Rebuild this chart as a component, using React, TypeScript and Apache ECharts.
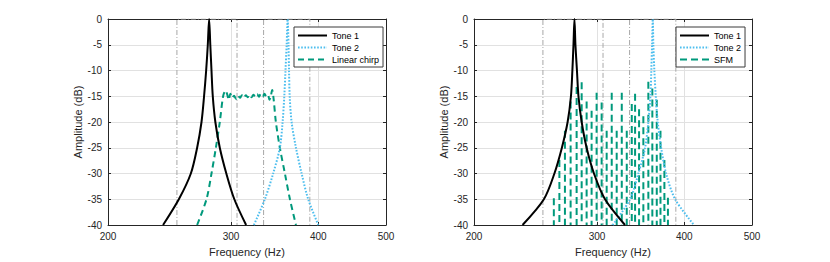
import React, { useEffect, useRef } from "react";
import * as echarts from "echarts";

// ---------- data ----------
const xTickValues = [200, 300, 400, 500];
const xMin = 200;
const xMax = 500;
const yMin = -40;
const yMax = 0;
const yStep = 5;

// critical-band edges (Hz), dash-dot rectangles
const bandLo = [251, 334];
const bandHi = [306, 389];

const peakDb = [-40, -35, -30, -25, -20, -15, -10, -5, 0, -5, -10, -15, -20, -25, -30, -35, -40];

// left panel
const tone1LeftFreq = [239.8, 252.6, 262.8, 268.3, 272.2, 274.5, 276.4, 277.9, 279.1, 280.2, 281.3, 282.5, 284.9, 289.1, 295.4, 303.3, 315.3];
const tone2LeftFreq = [323.5, 335.4, 344.7, 352.4, 355.6, 357.6, 359.0, 360.4, 361.5, 362.6, 363.2, 364.0, 366.3, 371.6, 378.6, 386.9, 400.0];
const chirpFreq = [268.3, 276.7, 281.3, 285.4, 289.1, 292.3, 294.6, 296.2, 297.8, 299.4, 301, 303, 305, 307, 309, 311, 313, 315, 317, 319, 321, 323, 325, 327, 329, 331, 333, 335, 337, 339, 340.5, 342, 343.6, 345.2, 347.8, 352.4, 358.3, 364.3, 371.6];
const chirpDb = [-40, -35, -30, -25, -20, -15, -13.9, -14.6, -15.7, -14.5, -15.3, -14.9, -15.5, -14.9, -15.3, -14.8, -15.3, -14.8, -15.2, -14.7, -15.2, -14.7, -15.1, -14.6, -15.1, -14.5, -15.0, -14.5, -15.1, -14.8, -15.7, -15.0, -13.8, -15.5, -20, -25, -30, -35, -40];

// right panel
const tone1RightFreq = [234.7, 251.8, 260.7, 267.2, 272.3, 275.3, 276.6, 277.6, 278.5, 279.4, 280.8, 282.2, 285.2, 289.9, 297.0, 308.0, 329.0];
const tone2RightFreq = [315.9, 334.5, 343.8, 351.5, 355.3, 357.7, 358.8, 359.7, 360.5, 361.2, 362.4, 364.1, 366.5, 370.6, 376.7, 388.1, 413.0];
const sfmFreq = [260.2, 265.0, 269.9, 275.0, 280.5, 285.2, 289.9, 294.7, 299.6, 304.6, 309.7, 314.9, 320.1, 325.5, 330.9, 336.4, 340.1, 344.6, 349.5, 355.3, 360.0, 365.3, 369.8, 374.6, 379.0];
const sfmDb = [-34.8, -27.4, -21.7, -16.0, -13.2, -12.3, -16.0, -17.8, -14.3, -16.2, -21.7, -14.3, -21.7, -14.3, -21.7, -16.5, -14.5, -17.5, -18.9, -12.2, -13.5, -15.7, -21.7, -27.4, -34.7];

// ---------- style ----------
const FONT = "'Liberation Sans', Arial, Helvetica, sans-serif";
const AXIS_COLOR = "#262626";
const GRID_COLOR = "#e1e1e1";
const BAND_COLOR = "#a8a8a8";
const TONE1_COLOR = "#000000";
const TONE2_COLOR = "#4dbeee";
const GREEN = "#00997c";

const zip = (xs: number[], ys: number[]) => xs.map((x, i) => [x, ys[i]]);

function spikes(xs: number[], ys: number[]) {
  const out: any[] = [];
  xs.forEach((x, i) => {
    out.push([x, ys[i]]);
    out.push([x, yMin]);
    out.push([x, "-"]);
  });
  return out;
}

function bandSeries(i: number, xIdx: number, yIdx: number) {
  return {
    type: "line",
    name: "band" + i,
    xAxisIndex: xIdx,
    yAxisIndex: yIdx,
    symbol: "none",
    silent: true,
    z: 1,
    lineStyle: { color: BAND_COLOR, width: 1, type: [5, 2, 1, 2] },
    data: [
      [bandLo[i], yMin],
      [bandLo[i], yMax],
      [bandHi[i], yMax],
      [bandHi[i], yMin],
    ],
  };
}

function axesFor(gridIndex: number) {
  const xBase: any = { type: "log", logBase: 10, min: xMin, max: xMax, gridIndex };
  const lineCfg = { show: true, onZero: false, lineStyle: { color: AXIS_COLOR, width: 1 } };
  const xTick = { show: true, inside: true, length: 3, customValues: xTickValues, lineStyle: { color: AXIS_COLOR } };
  const xAxes = [
    {
      ...xBase,
      position: "bottom",
      name: "Frequency (Hz)",
      nameLocation: "middle",
      nameGap: 21,
      nameTextStyle: { fontFamily: FONT, fontSize: 11, color: AXIS_COLOR },
      axisLine: lineCfg,
      axisTick: xTick,
      axisLabel: { customValues: xTickValues, fontFamily: FONT, fontSize: 10, color: AXIS_COLOR, margin: 6 },
      splitLine: { show: true, lineStyle: { color: GRID_COLOR, width: 1 } },
    },
    {
      ...xBase,
      position: "top",
      axisLine: lineCfg,
      axisTick: xTick,
      axisLabel: { show: false },
      splitLine: { show: false },
    },
  ];
  const yBase: any = { type: "value", min: yMin, max: yMax, interval: yStep, gridIndex };
  const yTick = { show: true, inside: true, length: 3, lineStyle: { color: AXIS_COLOR } };
  const yAxes = [
    {
      ...yBase,
      position: "left",
      name: "Amplitude (dB)",
      nameLocation: "middle",
      nameGap: 23,
      nameTextStyle: { fontFamily: FONT, fontSize: 11, color: AXIS_COLOR },
      axisLine: lineCfg,
      axisTick: yTick,
      axisLabel: { fontFamily: FONT, fontSize: 10, color: AXIS_COLOR, margin: 6 },
      splitLine: { show: true, lineStyle: { color: GRID_COLOR, width: 1 } },
    },
    {
      ...yBase,
      position: "right",
      axisLine: lineCfg,
      axisTick: yTick,
      axisLabel: { show: false },
      splitLine: { show: false },
    },
  ];
  return { xAxes, yAxes };
}

function legendFor(left: number, names: string[]) {
  return {
    data: names,
    orient: "vertical",
    left,
    top: 27,
    padding: [4, 4, 3, 3],
    itemWidth: 29,
    itemHeight: 10,
    itemGap: 3,
    borderColor: "#3a3a3a",
    borderWidth: 1,
    backgroundColor: "#ffffff",
    selectedMode: false,
    itemStyle: { opacity: 0 },
    textStyle: { fontFamily: FONT, fontSize: 9, color: "#000" },
  };
}

export default function App() {
  const ref = useRef<HTMLDivElement>(null);
  useEffect(() => {
    if (!ref.current) return;
    const chart = echarts.init(ref.current, null, { renderer: "svg" });
    const a0 = axesFor(0);
    const a1 = axesFor(1);
    const option: any = {
      animation: false,
      backgroundColor: "#ffffff",
      grid: [
        { left: 108, top: 19, width: 278, height: 210 },
        { left: 474, top: 19, width: 278, height: 210 },
      ],
      xAxis: [...a0.xAxes, ...a1.xAxes],
      yAxis: [...a0.yAxes, ...a1.yAxes],
      legend: [
        legendFor(294, ["Tone 1", "Tone 2", "Linear chirp"]),
        legendFor(676, ["Tone 1", "Tone 2", "SFM"]),
      ],
      series: [
        bandSeries(0, 0, 0),
        bandSeries(1, 0, 0),
        bandSeries(0, 2, 2),
        bandSeries(1, 2, 2),
        {
          type: "line",
          name: "Linear chirp",
          xAxisIndex: 0,
          yAxisIndex: 0,
          symbol: "none",
          smooth: 0.3,
          z: 3,
          lineStyle: { color: GREEN, width: 2, type: [6, 4] },
          itemStyle: { color: GREEN },
          data: zip(chirpFreq, chirpDb),
        },
        {
          type: "line",
          name: "Tone 2",
          xAxisIndex: 0,
          yAxisIndex: 0,
          symbol: "none",
          smooth: 0.3,
          z: 4,
          lineStyle: { color: TONE2_COLOR, width: 2, type: [1.6, 1.6] },
          itemStyle: { color: TONE2_COLOR },
          data: zip(tone2LeftFreq, peakDb),
        },
        {
          type: "line",
          name: "Tone 1",
          xAxisIndex: 0,
          yAxisIndex: 0,
          symbol: "none",
          smooth: 0.3,
          z: 5,
          lineStyle: { color: TONE1_COLOR, width: 2 },
          itemStyle: { color: TONE1_COLOR },
          data: zip(tone1LeftFreq, peakDb),
        },
        {
          type: "line",
          name: "SFM",
          xAxisIndex: 2,
          yAxisIndex: 2,
          symbol: "none",
          z: 3,
          connectNulls: false,
          lineStyle: { color: GREEN, width: 2, type: [7, 4] },
          itemStyle: { color: GREEN },
          data: spikes(sfmFreq, sfmDb),
        },
        {
          type: "line",
          name: "Tone 2",
          xAxisIndex: 2,
          yAxisIndex: 2,
          symbol: "none",
          smooth: 0.3,
          z: 4,
          lineStyle: { color: TONE2_COLOR, width: 2, type: [1.6, 1.6] },
          itemStyle: { color: TONE2_COLOR },
          data: zip(tone2RightFreq, peakDb),
        },
        {
          type: "line",
          name: "Tone 1",
          xAxisIndex: 2,
          yAxisIndex: 2,
          symbol: "none",
          smooth: 0.3,
          z: 5,
          lineStyle: { color: TONE1_COLOR, width: 2 },
          itemStyle: { color: TONE1_COLOR },
          data: zip(tone1RightFreq, peakDb),
        },
      ],
    };
    chart.setOption(option);
    return () => chart.dispose();
  }, []);
  return (
    <div
      ref={ref}
      style={{ position: "fixed", left: 0, top: 0, width: 830, height: 262, background: "#fff" }}
    />
  );
}
